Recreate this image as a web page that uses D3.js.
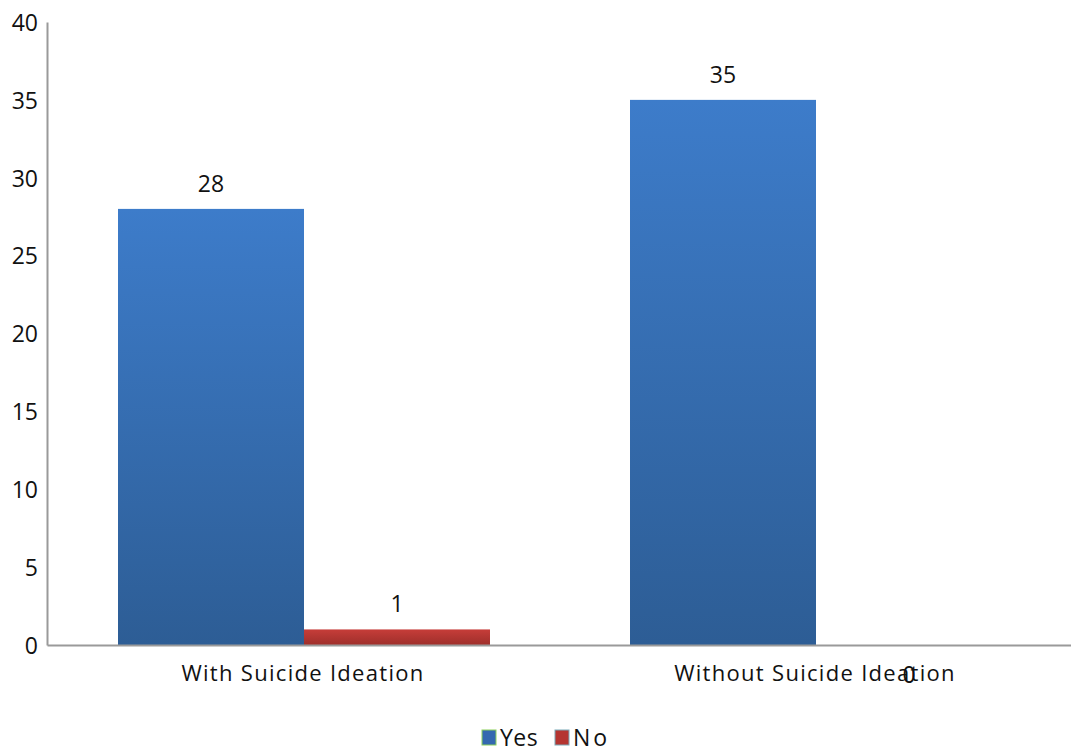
<!DOCTYPE html>
<html>
<head>
<meta charset="utf-8">
<script src="https://cdn.jsdelivr.net/npm/d3@7"></script>
<style>
  html, body { margin: 0; padding: 0; background: #fff; }
  svg text { font-family: "Open Sans", sans-serif; fill: #111; }
</style>
</head>
<body>
<svg id="chart" width="1071" height="755"></svg>
<script>
// Data
const categories = ["With Suicide Ideation", "Without Suicide Ideation"];
const seriesNames = ["Yes", "No"];
const yesValues = [28, 35];
const noValues = [1, 0];
const yTicks = [0, 5, 10, 15, 20, 25, 30, 35, 40];

const W = 1071, H = 755;
const margin = { left: 47, right: 0, top: 22, bottom: 110 };
const svg = d3.select("#chart");

const x0 = d3.scaleBand().domain(categories).range([margin.left, W - margin.right]).paddingInner(0).paddingOuter(0);
const x1 = d3.scaleBand().domain(seriesNames).range([71, x0.bandwidth() - 69]);
const y = d3.scaleLinear().domain([0, 40]).range([H - margin.bottom, margin.top]);

// Vertical gradients for the bars
const defs = svg.append("defs");
function grad(id, top, bottom) {
  const g = defs.append("linearGradient").attr("id", id).attr("x1", 0).attr("x2", 0).attr("y1", 0).attr("y2", 1);
  g.append("stop").attr("offset", "0%").attr("stop-color", top);
  g.append("stop").attr("offset", "100%").attr("stop-color", bottom);
}
grad("gYes", "#3d7cca", "#2d5d95");
grad("gNo", "#c63d39", "#9e2f2b");
const fills = { Yes: "url(#gYes)", No: "url(#gNo)" };
const legendFills = { Yes: "#3468b0", No: "#b53531" };

const rows = categories.map((c, i) => ({ cat: c, values: [
  { key: "Yes", value: yesValues[i] },
  { key: "No", value: noValues[i] }
]}));

// Bars
const groups = svg.append("g").selectAll("g").data(rows).join("g")
  .attr("transform", d => `translate(${x0(d.cat)},0)`);

groups.selectAll("rect").data(d => d.values).join("rect")
  .attr("x", d => x1(d.key))
  .attr("width", x1.bandwidth())
  .attr("y", d => y(d.value))
  .attr("height", d => y(0) - y(d.value))
  .attr("fill", d => fills[d.key]);

// Value labels
groups.selectAll("text.val").data(d => d.values).join("text")
  .attr("class", "val")
  .attr("x", d => x1(d.key) + x1.bandwidth() / 2)
  .attr("y", d => d.value === 0 ? y(0) + 38 : y(d.value) - 17)
  .attr("text-anchor", "middle")
  .attr("font-size", 23)
  .text(d => d.value);

// Axes
const yAxis = d3.axisLeft(y).tickValues(yTicks).tickSize(0).tickPadding(9);
const gy = svg.append("g").attr("transform", `translate(${margin.left},0)`).call(yAxis);
gy.select(".domain").attr("stroke", "#9a9a9a").attr("stroke-width", 2);
gy.selectAll("text").attr("font-size", 23).attr("font-family", "Open Sans, sans-serif").attr("fill", "#111").attr("dy", "0.36em");

const xAxis = d3.axisBottom(x0).tickSize(0).tickPadding(20);
const gx = svg.append("g").attr("transform", `translate(0,${y(0)})`).call(xAxis);
gx.select(".domain").attr("stroke", "#9a9a9a").attr("stroke-width", 2);
gx.selectAll("text").attr("font-size", 22).attr("font-family", "Open Sans, sans-serif").attr("fill", "#111")
  .attr("letter-spacing", "1.3px").attr("dy", "0.71em");

// Legend
const legend = svg.append("g").attr("transform", "translate(482,730)");
const items = [{ key: "Yes", x: 0 }, { key: "No", x: 73 }];
items.forEach(it => {
  legend.append("rect").attr("x", it.x).attr("y", 0).attr("width", 14).attr("height", 15)
    .attr("fill", legendFills[it.key]).attr("stroke", it.key === "Yes" ? "#8ccf5a" : "#7aa9b8").attr("stroke-width", 1);
  legend.append("text").attr("x", it.x + 18).attr("y", 16).attr("font-size", 23)
    .attr("letter-spacing", it.key === "No" ? "3px" : "0.5px").text(it.key);
});
</script>
</body>
</html>
